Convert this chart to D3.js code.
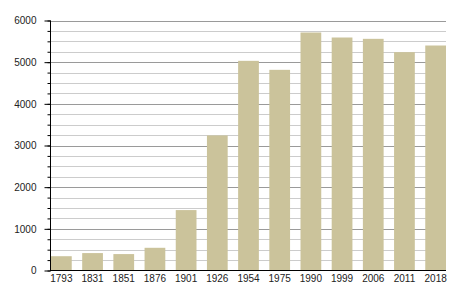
<!DOCTYPE html>
<html>
<head>
<meta charset="utf-8">
<script src="https://cdn.jsdelivr.net/npm/d3@7"></script>
<style>
  html, body { margin: 0; padding: 0; background: #fff; }
  svg { display: block; }
  text { font-family: "Liberation Sans", Arial, sans-serif; font-size: 10px; fill: #222; }
</style>
</head>
<body>
<svg id="chart" width="455" height="300"></svg>
<script>
const years = ["1793","1831","1851","1876","1901","1926","1954","1975","1990","1999","2006","2011","2018"];
const population = [343, 418, 394, 545, 1450, 3242, 5032, 4816, 5712, 5592, 5560, 5241, 5400];
const yTicks = [0, 1000, 2000, 3000, 4000, 5000, 6000];
const yMinorTicks = d3.range(0, 6001, 250);

(function () {
const svg = d3.select("#chart");
const mLeft = 50, mRight = 446, mTop = 20.5, mBottom = 270.5;

const x = d3.scaleBand().domain(years).range([51, 446]).paddingInner(0.335).paddingOuter(0);
const y = d3.scaleLinear().domain([0, 6000]).range([mBottom, mTop]);

// minor gridlines
svg.append("g").selectAll("line").data(yMinorTicks.filter(d => d % 1000 !== 0)).join("line")
  .attr("x1", mLeft).attr("x2", mRight)
  .attr("y1", d => Math.round(y(d)) + 0.5).attr("y2", d => Math.round(y(d)) + 0.5)
  .attr("stroke", "#cccccc").attr("stroke-width", 1);
// major gridlines
svg.append("g").selectAll("line").data(yTicks.filter(d => d > 0)).join("line")
  .attr("x1", mLeft).attr("x2", mRight)
  .attr("y1", d => Math.round(y(d)) + 0.5).attr("y2", d => Math.round(y(d)) + 0.5)
  .attr("stroke", "#9a9a9a").attr("stroke-width", 1);

// bars
svg.append("g").selectAll("rect").data(years).join("rect")
  .attr("x", d => x(d))
  .attr("width", x.bandwidth())
  .attr("y", (d, i) => y(population[i]))
  .attr("height", (d, i) => y(0) - y(population[i]))
  .attr("fill", "#cbc39b");

// y axis
const yAxisMinor = d3.axisLeft(y).tickValues(yMinorTicks).tickSize(3).tickFormat("");
svg.append("g").attr("transform", `translate(${mLeft + 0.5},0)`).call(yAxisMinor)
  .call(g => g.select(".domain").remove())
  .selectAll("line").attr("stroke", "#000");
const yAxis = d3.axisLeft(y).tickValues(yTicks).tickSize(6).tickPadding(8).tickFormat(d3.format("d"));
const ya = svg.append("g").attr("transform", `translate(${mLeft + 0.5},0)`).call(yAxis);
ya.select(".domain").attr("stroke", "#000").attr("d", `M0,${mTop}V${mBottom}`);
ya.selectAll(".tick line").attr("stroke", "#000");
ya.selectAll("text").attr("font-family", "Liberation Sans, Arial, sans-serif").attr("font-size", 10).attr("fill", "#222");

// x axis
const xAxis = d3.axisBottom(x).tickSize(0).tickPadding(4);
const xa = svg.append("g").attr("transform", `translate(0,${mBottom})`).call(xAxis);
xa.select(".domain").attr("stroke", "#000").attr("d", `M${mLeft},0H${mRight}`);
xa.selectAll("text").attr("font-family", "Liberation Sans, Arial, sans-serif").attr("font-size", 10).attr("fill", "#222");
})();
</script>
</body>
</html>
